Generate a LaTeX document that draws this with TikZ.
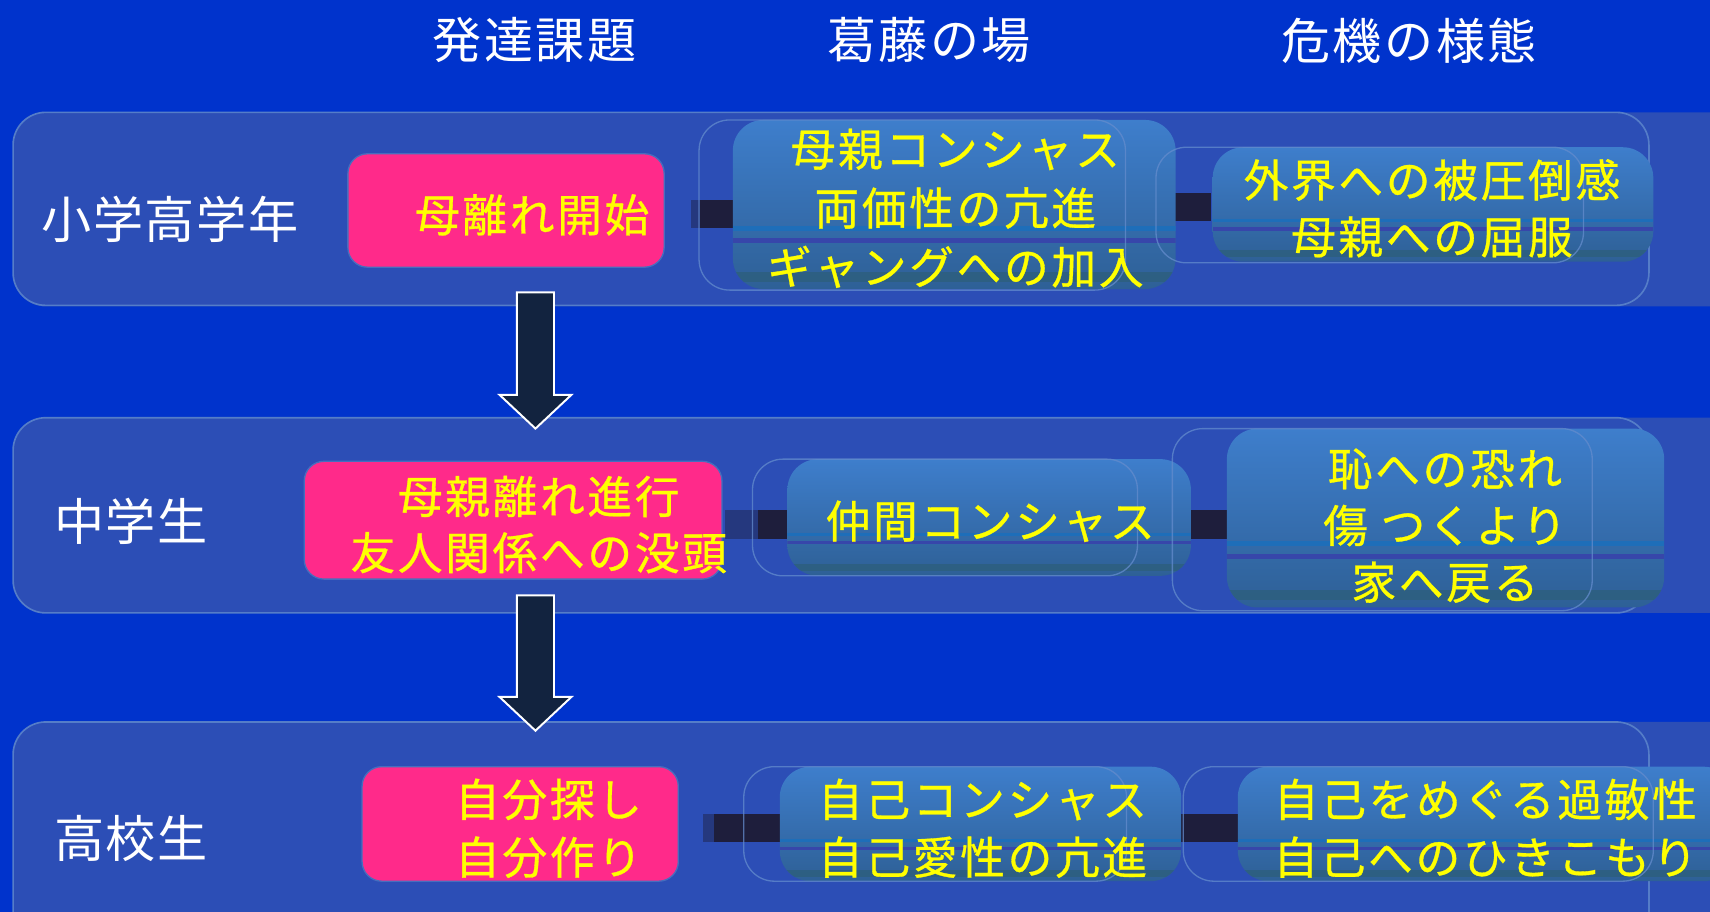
\documentclass[tikz,border=0pt]{standalone}
\usepackage{fontspec}
\setmainfont{Noto Sans CJK JP}
\newfontfamily\jphead[LetterSpace=5]{Noto Sans CJK JP}
\newfontfamily\jplab[LetterSpace=3]{Noto Sans CJK JP}
\newfontfamily\jpyel[LetterSpace=6,FakeBold=0.7]{Noto Sans CJK JP}
\usetikzlibrary{calc}
\definecolor{bgc}{RGB}{0,51,204}
\definecolor{bandc}{RGB}{44,78,182}
\definecolor{bandl}{RGB}{85,125,200}
\definecolor{pinkc}{RGB}{255,42,138}
\definecolor{pinkl}{RGB}{70,110,190}
\definecolor{fronttop}{RGB}{62,126,204}
\definecolor{frontbot}{RGB}{46,96,150}
\definecolor{ghostc}{RGB}{100,140,205}
\definecolor{connc}{RGB}{30,30,60}
\definecolor{arrowc}{RGB}{18,35,63}
\definecolor{yel}{RGB}{255,255,0}
\definecolor{stripeA}{RGB}{30,110,185}
\definecolor{stripeB}{RGB}{55,70,170}
\definecolor{stripeC}{RGB}{45,95,125}
\begin{document}
\begin{tikzpicture}[x=1pt,y=-1pt,
  bandbox/.style={fill=bandc, rounded corners=30pt},
  bandline/.style={draw=bandl, line width=1.5pt, rounded corners=30pt},
  pinkbox/.style={fill=pinkc, draw=pinkl, line width=1.2pt, rounded corners=18pt, inner sep=0pt},
  frontbox/.style={rounded corners=28pt, top color=fronttop, bottom color=frontbot, inner sep=0pt,
    path picture={
      \path (path picture bounding box.north west) coordinate (pA)
            (path picture bounding box.south east) coordinate (pB);
      \fill[stripeA, sharp corners] ($(pA)!0.630!(pA|-pB)$) rectangle ($(pB|-pA)!0.655!(pB)$);
      \fill[stripeB, sharp corners] ($(pA)!0.700!(pA|-pB)$) rectangle ($(pB|-pA)!0.730!(pB)$);
      \fill[stripeC, sharp corners, opacity=0.8] ($(pA)!0.900!(pA|-pB)$) rectangle ($(pB|-pA)!0.960!(pB)$);
    }},
  ghostbox/.style={draw=ghostc, draw opacity=0.75, line width=1.2pt, rounded corners=28pt, inner sep=0pt},
  conn/.style={draw=connc, line width=26pt},
  dither/.style={fill=bandc, opacity=0.55},
  blockarrow/.style={fill=arrowc, draw=white, line width=1.8pt, line join=miter},
  headtext/.style={font=\jphead\fontsize{45}{50}\selectfont, text=white, inner sep=0pt},
  labtext/.style={font=\jplab\fontsize{46}{50}\selectfont, text=white, inner sep=0pt},
  ytext/.style={font=\jpyel\fontsize{41}{#1}\selectfont, text=yel, align=center, inner sep=0pt},
  ytext/.default=53
]
\fill[bgc] (0,0) rectangle (1568,836);
\useasboundingbox (0,0) rectangle (1568,836);
\clip (0,0) rectangle (1568,836);

% row bands
\path[bandbox] (12,103) rectangle (1640,281);
\path[bandbox] (12,383) rectangle (1640,562);
\path[bandbox] (12,662) rectangle (1640,900);
\path[bandline] (12,103) rectangle (1512,280);
\path[bandline] (12,383) rectangle (1512,562);
\path[bandline] (12,662) rectangle (1512,900);

% headers
\node[headtext] (h1) at (490,37) {発達課題};
\node[headtext] (h2) at (852,37) {葛藤の場};
\node[headtext] (h3) at (1292,37) {危機の様態};

% row labels
\node[labtext] (l1) at (156,201) {小学高学年};
\node[labtext] (l2) at (120,478) {中学生};
\node[labtext] (l3) at (120,769) {高校生};

% pink boxes
\node[pinkbox, minimum width=290, minimum height=104] (p1) at (464,193) {};
\node[pinkbox, minimum width=383, minimum height=108] (p2) at (470.5,477) {};
\node[pinkbox, minimum width=290, minimum height=105] (p3) at (477,755.5) {};

% connectors (drawn under the blue boxes)
\coordinate (c1s) at (634,196.5);
\coordinate (c2s) at (665,481);
\coordinate (c3s) at (645,759);
\coordinate (d1s) at (1070,190);
\coordinate (d2s) at (1085,481);
\coordinate (d3s) at (1075,759);
\path (1110,0) coordinate (r1w) (1125,0) coordinate (r2w) (1135,0) coordinate (r3w);
\path (672,0) coordinate (m1w) (722,0) coordinate (m2w) (715,0) coordinate (m3w);
\draw[conn] (c1s) -- (c1s -| m1w);
\draw[conn] (c2s) -- (c2s -| m2w);
\draw[conn] (c3s) -- (c3s -| m3w);
\draw[conn] (d1s) -- (d1s -| r1w);
\draw[conn] (d2s) -- (d2s -| r2w);
\draw[conn] (d3s) -- (d3s -| r3w);
\fill[dither] (634,182) rectangle (642,211);
\fill[dither] (665,467) rectangle (695,495);
\fill[dither] (645,745) rectangle (655,773);

% blue boxes
\node[frontbox, minimum width=406, minimum height=155] (m1) at (875,187.5) {};
\node[frontbox, minimum width=404, minimum height=105] (r1) at (1314,187.5) {};
\node[frontbox, minimum width=370, minimum height=107] (m2) at (907,474.5) {};
\node[frontbox, minimum width=401, minimum height=164] (r2) at (1325.5,475) {};
\node[frontbox, minimum width=368, minimum height=105] (m3) at (899,755.5) {};
\node[frontbox, minimum width=455, minimum height=105] (r3) at (1362.5,755.5) {};

% ghost outlines
\node[ghostbox, minimum width=391, minimum height=156] (g1) at (836.5,188) {};
\node[ghostbox, minimum width=392, minimum height=106] (k1) at (1256,188) {};
\node[ghostbox, minimum width=353, minimum height=107] (g2) at (866.5,474.5) {};
\node[ghostbox, minimum width=385, minimum height=167] (k2) at (1267.5,476.5) {};
\node[ghostbox, minimum width=351, minimum height=105] (g3) at (857.5,755.5) {};
\node[ghostbox, minimum width=431, minimum height=105] (k3) at (1300.5,755.5) {};

% texts
\node[ytext] (tp1) at (488,197) {母離れ開始};
\node[ytext=51.5] (tp2) at (494,481) {母親離れ進行\\友人関係への没頭};
\node[ytext=53] (tp3) at (503,759.5) {自分探し\\自分作り};
\node[ytext=54] (tm1) at (876,191) {母親コンシャス\\両価性の亢進\\ギャングへの加入};
\node[ytext=52] (tr1) at (1313,191) {外界への被圧倒感\\母親への屈服};
\node[ytext] (tm2) at (908,478) {仲間コンシャス};
\node[ytext=52] (tr2) at (1325,482) {恥への恐れ\\傷 つくより\\家へ戻る};
\node[ytext=53] (tm3) at (901,759.5) {自己コンシャス\\自己愛性の亢進};
\node[ytext=53] (tr3) at (1362,759.5) {自己をめぐる過敏性\\自己へのひきこもり};

% block arrows
\coordinate (a1) at (491,268);
\coordinate (a1t) at (491,393);
\coordinate (a2) at (491,546);
\coordinate (a2t) at (491,670);
\draw[blockarrow] ($(a1)+(-17,0)$) -- ($(a1)+(17,0)$) -- ($(a1t)+(17,-31)$) -- ($(a1t)+(33,-31)$) -- (a1t) -- ($(a1t)+(-33,-31)$) -- ($(a1t)+(-17,-31)$) -- cycle;
\draw[blockarrow] ($(a2)+(-17,0)$) -- ($(a2)+(17,0)$) -- ($(a2t)+(17,-31)$) -- ($(a2t)+(33,-31)$) -- (a2t) -- ($(a2t)+(-33,-31)$) -- ($(a2t)+(-17,-31)$) -- cycle;
\end{tikzpicture}
\end{document}
